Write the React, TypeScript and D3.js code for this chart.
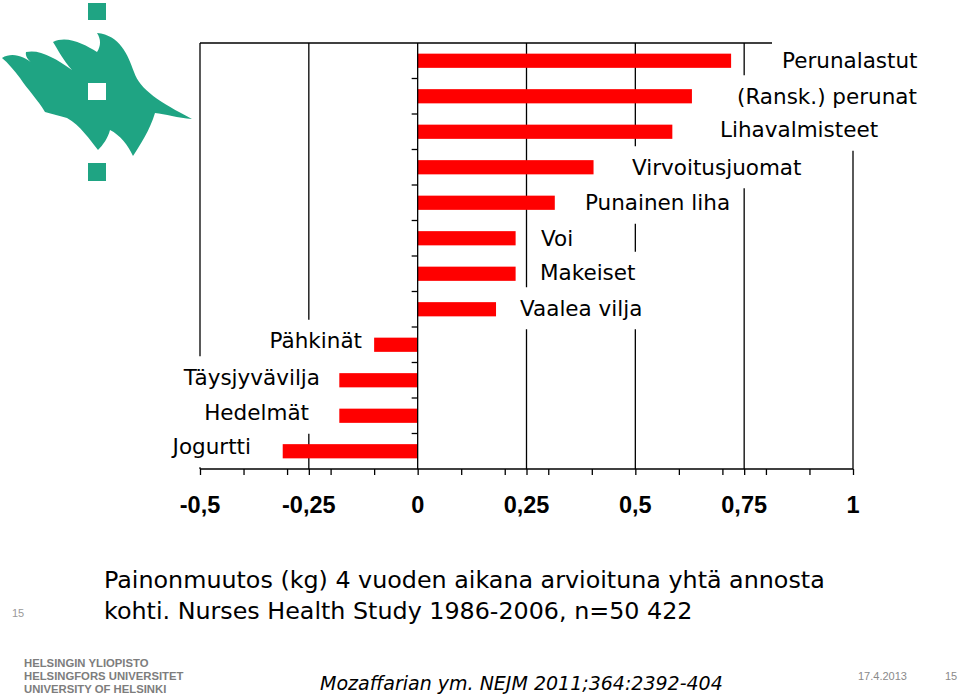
import React, { useEffect, useRef } from "react";
import * as d3 from "d3";

// ---- data ----
const categories = [
  "Perunalastut",
  "(Ransk.) perunat",
  "Lihavalmisteet",
  "Virvoitusjuomat",
  "Punainen liha",
  "Voi",
  "Makeiset",
  "Vaalea vilja",
  "Pähkinät",
  "Täysjyvävilja",
  "Hedelmät",
  "Jogurtti",
];
const values = [0.72, 0.63, 0.585, 0.404, 0.315, 0.225, 0.225, 0.18, -0.1, -0.18, -0.18, -0.31];
const xTickLabels = [-0.5, -0.25, 0, 0.25, 0.5, 0.75, 1];
const gridValues = [-0.25, 0.25, 0.5, 0.75, 1];
const captionLines = [
  "Painonmuutos (kg) 4 vuoden aikana arvioituna yhtä annosta",
  "kohti. Nurses Health Study 1986-2006, n=50 422",
];
const footerLines = ["HELSINGIN YLIOPISTO", "HELSINGFORS UNIVERSITET", "UNIVERSITY OF HELSINKI"];
const sourceText = "Mozaffarian ym. NEJM 2011;364:2392-404";
const dateText = "17.4.2013";
const pageNo = "15";

// ---- layout (label placement, px) ----
const labelX = [782, 737, 720, 632, 585, 541, 540, 520, 362, 320, 309, 251];
const labelAnchor = ["start", "start", "start", "start", "start", "start", "start", "start", "end", "end", "end", "end"];
const labelDy = [0, 0, -2, 0, 0, 0, -1, -1, -4, -3, -3, -5];

const W = 960;
const H = 699;
const LABEL_FONT = "'DejaVu Sans', Verdana, sans-serif";
const FLAME_PATH =
  "M2,58 C12,52 24,56 33,64 C28,60 25,56 26,52 C40,49 55,58 72,70 C63,60 58,50 53,42 " +
  "C68,35 85,45 97,52 C101,46 101,39 97,33 C120,35 128,55 134,72 C140,90 160,102 192,119 " +
  "C178,118 165,114 155,113 C150,130 140,145 133,156 C128,145 120,135 110,130 C108,138 103,145 98,150 " +
  "C90,140 80,125 67,118 C60,116 52,114 45,112 C38,100 28,90 20,78 C14,70 8,63 2,58 Z";

export default function App() {
  const ref = useRef<SVGSVGElement>(null);

  useEffect(() => {
    const svg = d3.select(ref.current);
    svg.selectAll("*").remove();

    const x = d3.scaleLinear().domain([-0.5, 1]).range([200, 853]);
    const y = d3
      .scaleBand<string>()
      .domain(categories)
      .range([43, 469])
      .paddingInner(0.6)
      .paddingOuter(0.3);
    const step = y.step();
    const top = 43;
    const bottom = 469;

    // logo
    const logo = svg.append("g");
    const green = "#1fa483";
    logo.append("rect").attr("x", 88).attr("y", 3).attr("width", 18).attr("height", 17).attr("fill", green);
    logo.append("rect").attr("x", 88).attr("y", 163).attr("width", 18).attr("height", 18).attr("fill", green);
    logo.append("path").attr("d", FLAME_PATH).attr("fill", green);
    logo.append("rect").attr("x", 88).attr("y", 83).attr("width", 18).attr("height", 17).attr("fill", "#fff");

    // frame + gridlines
    const g = svg.append("g");
    g.append("line").attr("x1", x(-0.5)).attr("x2", x(1)).attr("y1", top).attr("y2", top).attr("stroke", "#000").attr("stroke-width", 1.3);
    g.append("line").attr("x1", x(-0.5)).attr("x2", x(-0.5)).attr("y1", top).attr("y2", bottom).attr("stroke", "#000").attr("stroke-width", 1.3);
    g.selectAll(".grid")
      .data(gridValues)
      .join("line")
      .attr("x1", (d) => x(d))
      .attr("x2", (d) => x(d))
      .attr("y1", top)
      .attr("y2", bottom)
      .attr("stroke", "#000")
      .attr("stroke-width", 1.3);

    // bars
    g.selectAll(".bar")
      .data(categories)
      .join("rect")
      .attr("x", (_, i) => x(Math.min(0, values[i])))
      .attr("width", (_, i) => Math.abs(x(values[i]) - x(0)))
      .attr("y", (d) => y(d) as number)
      .attr("height", y.bandwidth())
      .attr("fill", "#ff0000");

    // zero axis + y ticks
    g.append("line").attr("x1", x(0)).attr("x2", x(0)).attr("y1", top).attr("y2", bottom).attr("stroke", "#000").attr("stroke-width", 1.3);
    const yTickPos = d3.range(1, categories.length).map((i) => top + i * step);
    g.selectAll(".ytick")
      .data(yTickPos)
      .join("line")
      .attr("x1", x(0) - 6)
      .attr("x2", x(0))
      .attr("y1", (d) => d)
      .attr("y2", (d) => d)
      .attr("stroke", "#000")
      .attr("stroke-width", 1.3);

    // x axis
    const xAxis = d3
      .axisBottom(x)
      .tickValues(Array.from(new Set([...d3.ticks(-0.5, 1, 15), ...xTickLabels])))
      .tickSize(6)
      .tickFormat(() => "");
    const ax = g.append("g").attr("transform", `translate(0,${bottom})`).call(xAxis);
    ax.select(".domain").attr("stroke-width", 1.3).attr("d", `M${x(-0.5)},0H${x(1)}`);
    ax.selectAll(".tick line").attr("stroke-width", 1.3);
    g.selectAll(".xlab")
      .data(xTickLabels)
      .join("text")
      .attr("x", (d) => x(d))
      .attr("y", 513)
      .attr("text-anchor", "middle")
      .attr("font-family", "'Liberation Sans', Arial, sans-serif")
      .attr("font-weight", "bold")
      .attr("font-size", 23.5)
      .text((d) => String(d).replace(".", ","));

    // category labels with white boxes
    categories.forEach((c, i) => {
      const cy = (y(c) as number) + y.bandwidth() / 2 + labelDy[i];
      const lg = g.append("g");
      const rect = lg.append("rect").attr("fill", "#fff");
      const t = lg
        .append("text")
        .attr("x", labelX[i])
        .attr("y", cy)
        .attr("dy", "0.36em")
        .attr("text-anchor", labelAnchor[i])
        .attr("font-family", LABEL_FONT)
        .attr("font-size", 21.5)
        .attr("fill", "#000")
        .text(c);
      const bb = (t.node() as SVGTextElement).getBBox();
      rect
        .attr("x", bb.x - 10)
        .attr("width", bb.width + 20)
        .attr("y", cy - 21)
        .attr("height", 42);
    });

    // caption
    svg
      .selectAll(".cap")
      .data(captionLines)
      .join("text")
      .attr("x", 104)
      .attr("y", (_, i) => 588 + i * 31)
      .attr("font-family", LABEL_FONT)
      .attr("font-size", 23.8)
      .attr("fill", "#000")
      .text((d) => d);

    svg.append("text").attr("x", 12).attr("y", 617).attr("font-family", "'Liberation Sans', Arial, sans-serif").attr("font-size", 11).attr("fill", "#999").text(pageNo);

    svg
      .selectAll(".foot")
      .data(footerLines)
      .join("text")
      .attr("x", 24)
      .attr("y", (_, i) => 666.5 + i * 13)
      .attr("font-family", "'Liberation Sans', Arial, sans-serif")
      .attr("font-weight", "bold")
      .attr("font-size", 11.3)
      .attr("fill", "#7d7d7d")
      .text((d) => d);

    svg
      .append("text")
      .attr("x", 320)
      .attr("y", 690)
      .attr("font-family", LABEL_FONT)
      .attr("font-style", "italic")
      .attr("font-size", 19)
      .attr("fill", "#000")
      .text(sourceText);

    svg.append("text").attr("x", 858).attr("y", 680).attr("font-family", "'Liberation Sans', Arial, sans-serif").attr("font-size", 11).attr("fill", "#8a8a8a").text(dateText);
    svg.append("text").attr("x", 945).attr("y", 680).attr("font-family", "'Liberation Sans', Arial, sans-serif").attr("font-size", 11).attr("fill", "#8a8a8a").text(pageNo);
  }, []);

  return (
    <svg
      ref={ref}
      width={W}
      height={H}
      viewBox={`0 0 ${W} ${H}`}
      style={{ position: "absolute", left: 0, top: 0, background: "#fff" }}
    />
  );
}
